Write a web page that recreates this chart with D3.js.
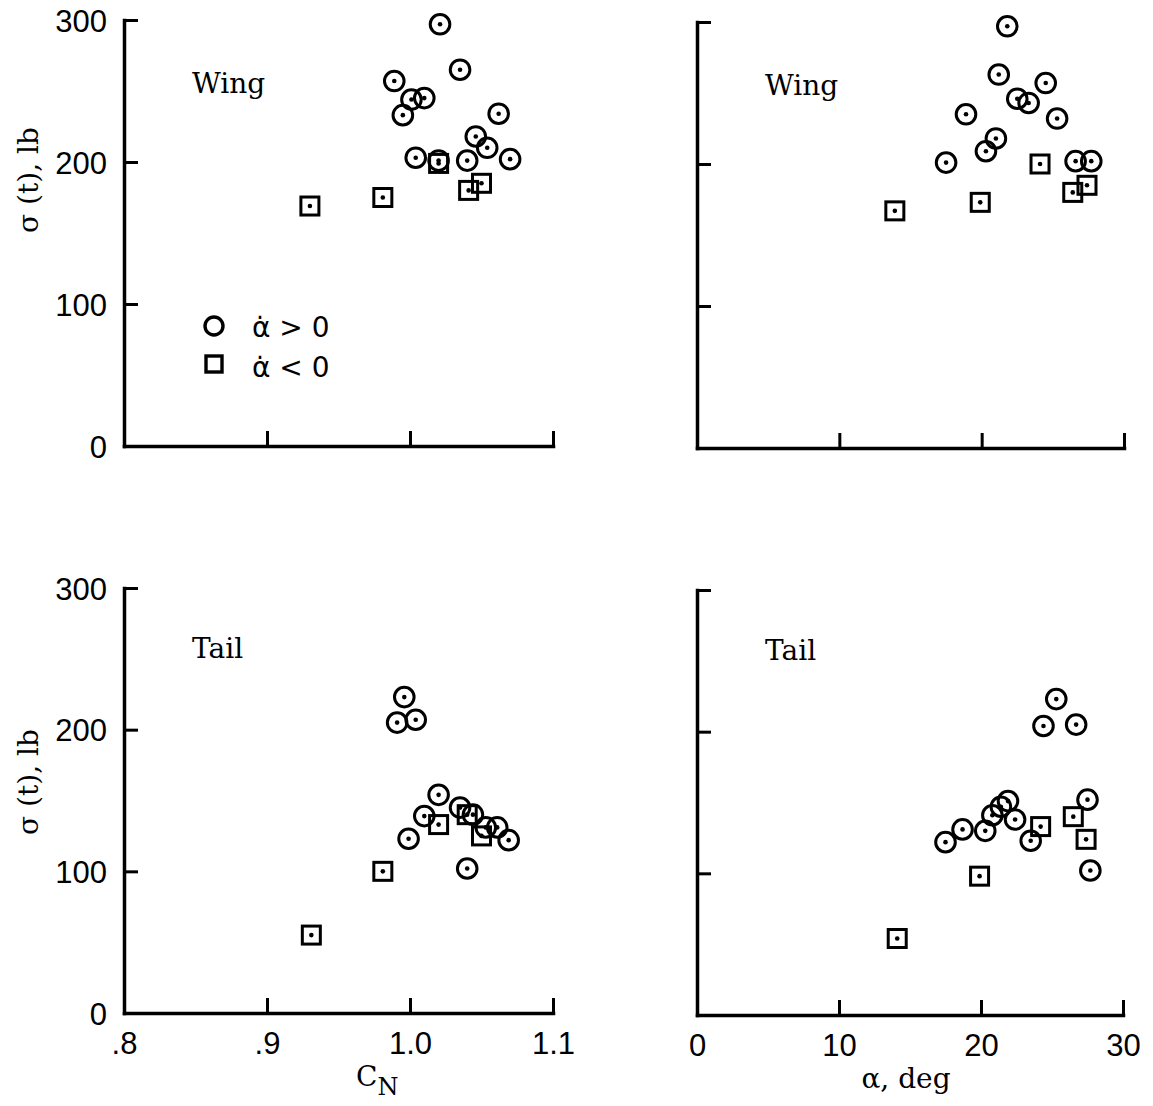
<!DOCTYPE html>
<html>
<head>
<meta charset="utf-8">
<script src="https://cdn.jsdelivr.net/npm/d3@7"></script>
<style>
  body { margin: 0; background: #fff; }
  text { fill: #000; }
  .num { font-family: "Liberation Sans", "DejaVu Sans", sans-serif; font-size: 31px; }
  .lab { font-family: "DejaVu Serif", serif; font-size: 28px; }
  .leg { font-family: "DejaVu Sans", sans-serif; font-size: 28px; }
</style>
</head>
<body>
<svg id="chart" width="1153" height="1106"></svg>
<script>
// --- data ---
// wing, sigma(t) vs C_N
const cnWingUp   = [1.021, 1.035, 0.989, 1.001, 1.010, 0.995, 1.062, 1.046, 1.054, 1.004, 1.020, 1.040, 1.070];
const sWingCnUp  = [297, 265, 257, 244, 245, 233, 234, 218, 210, 203, 201, 201, 202];
const cnWingDn   = [0.930, 0.981, 1.020, 1.041, 1.050];
const sWingCnDn  = [169, 175, 199, 180, 185];

// wing, sigma(t) vs alpha
const aWingUp    = [21.8, 21.2, 24.5, 22.5, 23.3, 18.9, 25.3, 21.0, 20.3, 17.5, 26.6, 27.7];
const sWingAUp   = [297, 263, 257, 246, 243, 235, 232, 218, 209, 201, 202, 202];
const aWingDn    = [13.9, 19.9, 24.1, 26.4, 27.4];
const sWingADn   = [167, 173, 200, 180, 185];

// tail, sigma(t) vs C_N
const cnTailUp   = [0.996, 0.991, 1.004, 1.020, 1.035, 1.010, 1.044, 1.053, 1.061, 0.999, 1.069, 1.040];
const sTailCnUp  = [223, 205, 207, 154, 145, 139, 140, 131, 131, 123, 122, 102];
const cnTailDn   = [0.931, 0.981, 1.020, 1.040, 1.050];
const sTailCnDn  = [55, 100, 133, 140, 125];

// tail, sigma(t) vs alpha
const aTailUp    = [25.3, 24.4, 26.7, 27.5, 21.9, 21.4, 20.8, 22.4, 18.7, 20.3, 23.5, 17.5, 27.7];
const sTailAUp   = [223, 204, 205, 152, 151, 147, 141, 138, 131, 130, 123, 122, 102];
const aTailDn    = [14.1, 19.9, 24.2, 26.5, 27.4];
const sTailADn   = [54, 98, 133, 140, 124];

const yTicks = [0, 100, 200, 300];
const cnTicks = [0.8, 0.9, 1.0, 1.1];
const cnTickLabels = ['.8', '.9', '1.0', '1.1'];
const aTicks = [0, 10, 20, 30];
const aTickLabels = ['0', '10', '20', '30'];

const zip = (xs, ys) => xs.map((v, i) => ({x: v, y: ys[i]}));

const panels = [
  {name: 'Wing', left: 124, right: 553, top: 20, bottom: 446, xDomain: [0.8, 1.1], xTicks: cnTicks,
   xLabels: null, yTitle: 180, up: zip(cnWingUp, sWingCnUp), dn: zip(cnWingDn, sWingCnDn), legend: true},
  {name: 'Wing', left: 697, right: 1124, top: 22, bottom: 448, xDomain: [0, 30], xTicks: aTicks,
   xLabels: null, yTitle: null, up: zip(aWingUp, sWingAUp), dn: zip(aWingDn, sWingADn)},
  {name: 'Tail', left: 124, right: 553, top: 588, bottom: 1013, xDomain: [0.8, 1.1], xTicks: cnTicks,
   xLabels: cnTickLabels, yTitle: 782, up: zip(cnTailUp, sTailCnUp), dn: zip(cnTailDn, sTailCnDn)},
  {name: 'Tail', left: 697, right: 1123, top: 590, bottom: 1015, xDomain: [0, 30], xTicks: aTicks,
   xLabels: aTickLabels, yTitle: null, up: zip(aTailUp, sTailAUp), dn: zip(aTailDn, sTailADn)}
];

const svg = d3.select('#chart');
svg.append('rect').attr('width', 1153).attr('height', 1106).attr('fill', '#fff');

const R = 9.8, SQ = 18;

function drawPanel(p) {
  const x = d3.scaleLinear().domain(p.xDomain).range([p.left, p.right]);
  const y = d3.scaleLinear().domain([0, 300]).range([p.bottom, p.top]);
  const g = svg.append('g');

  const xAxis = d3.axisBottom(x).tickValues(p.xTicks)
    .tickSizeInner(-15).tickSizeOuter(0).tickPadding(19)
    .tickFormat((d, i) => p.xLabels ? p.xLabels[i] : '');
  const gx = g.append('g').attr('transform', `translate(0,${p.bottom})`).call(xAxis);

  const yAxis = d3.axisLeft(y).tickValues(yTicks)
    .tickSizeInner(-14).tickSizeOuter(0).tickPadding(17)
    .tickFormat(d => p.yTitle ? d : '');
  const gy = g.append('g').attr('transform', `translate(${p.left},0)`).call(yAxis);

  [gx, gy].forEach(a => {
    a.select('.domain').attr('stroke', '#000').attr('stroke-width', 3.5).attr('stroke-linecap', 'square');
    a.selectAll('.tick line').attr('stroke', '#000').attr('stroke-width', 3);
    a.selectAll('.tick text').attr('class', 'num').attr('font-size', null).attr('font-family', null);
  });
  gy.selectAll('.tick text').attr('dy', '0.36em');

  g.append('text').attr('class', 'lab')
    .attr('x', p.left + 68).attr('y', p.top + (p.name === 'Wing' ? 73 : 70))
    .text(p.name);

  // alpha-dot < 0 (squares) then alpha-dot > 0 (circles)
  const sq = g.append('g').selectAll('g').data(p.dn).join('g')
    .attr('transform', d => `translate(${x(d.x)},${y(d.y)})`);
  sq.append('rect').attr('x', -SQ / 2).attr('y', -SQ / 2).attr('width', SQ).attr('height', SQ)
    .attr('fill', 'none').attr('stroke', '#000').attr('stroke-width', 3);
  sq.append('circle').attr('r', 2.3).attr('fill', '#000');

  const ci = g.append('g').selectAll('g').data(p.up).join('g')
    .attr('transform', d => `translate(${x(d.x)},${y(d.y)})`);
  ci.append('circle').attr('r', R).attr('fill', 'none').attr('stroke', '#000').attr('stroke-width', 3);
  ci.append('circle').attr('r', 2.3).attr('fill', '#000');

  if (p.yTitle) {
    g.append('text').attr('class', 'lab')
      .attr('transform', `translate(38,${p.yTitle}) rotate(-90)`)
      .attr('text-anchor', 'middle')
      .text('σ (t), lb');
  }

  if (p.legend) {
    const lg = g.append('g');
    lg.append('circle').attr('cx', 214).attr('cy', 326).attr('r', 9)
      .attr('fill', 'none').attr('stroke', '#000').attr('stroke-width', 3.4);
    lg.append('rect').attr('x', 206).attr('y', 356).attr('width', 16).attr('height', 16)
      .attr('fill', 'none').attr('stroke', '#000').attr('stroke-width', 3.4);
    lg.append('text').attr('class', 'leg').attr('x', 252).attr('y', 337).text('α\u0307 >  0');
    lg.append('text').attr('class', 'leg').attr('x', 252).attr('y', 377).text('α\u0307 < 0');
  }
}

panels.forEach(drawPanel);

// axis titles
const cn = svg.append('text').attr('class', 'lab').attr('x', 356).attr('y', 1086);
cn.append('tspan').text('C');
cn.append('tspan').attr('dy', 9).attr('font-size', 24).text('N');

svg.append('text').attr('class', 'lab').attr('x', 906).attr('y', 1088)
  .attr('text-anchor', 'middle').text('α, deg');
</script>
</body>
</html>
